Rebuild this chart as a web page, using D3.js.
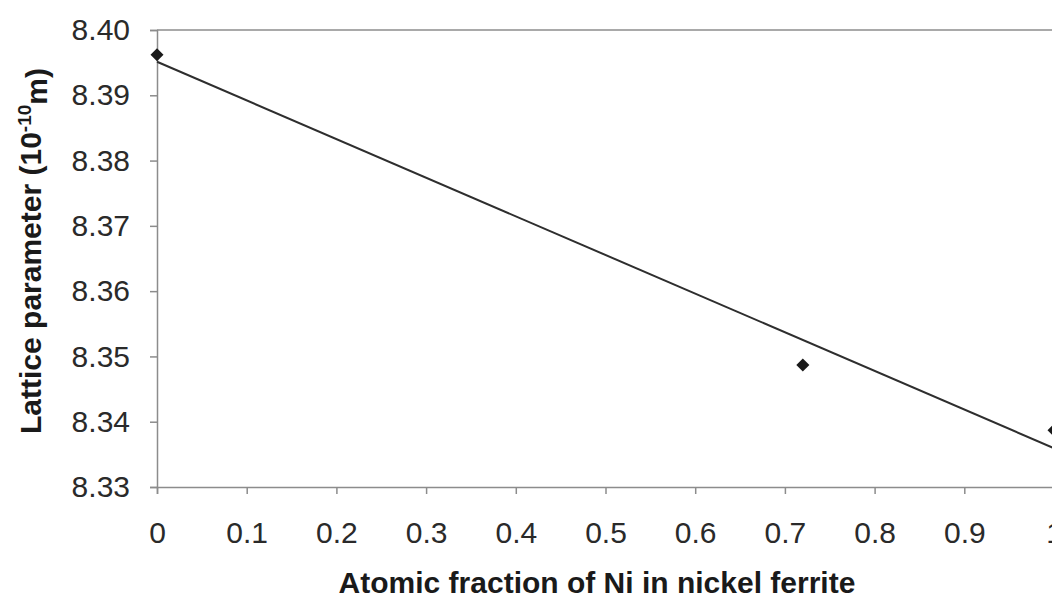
<!DOCTYPE html>
<html>
<head>
<meta charset="utf-8">
<script src="https://cdn.jsdelivr.net/npm/d3@7"></script>
<style>
  body { margin: 0; background: #fff; }
  svg { display: block; font-family: "Liberation Sans", Arial, sans-serif; }
</style>
</head>
<body>
<div id="chart"></div>
<script>
var width = 1052;
var height = 599;

// data
var niFraction = [0, 0.72, 1];
var latticeParam = [8.3962, 8.3487, 8.3387];
var xTicks = [0, 0.1, 0.2, 0.3, 0.4, 0.5, 0.6, 0.7, 0.8, 0.9, 1];
var yTicks = [8.33, 8.34, 8.35, 8.36, 8.37, 8.38, 8.39, 8.40];

var svg = d3.select("#chart").append("svg")
  .attr("width", width)
  .attr("height", height);

var x = d3.scaleLinear().domain([0, 1]).range([157, 1054]);
var y = d3.scaleLinear().domain([8.33, 8.40]).range([487, 30]);

// top border of the plot area
svg.append("line")
  .attr("x1", x(0)).attr("x2", x(1))
  .attr("y1", y(8.40)).attr("y2", y(8.40))
  .attr("stroke", "#8c8c8c").attr("stroke-width", 1.5);

var xAxis = svg.append("g")
  .attr("transform", "translate(0," + y(8.33) + ")")
  .call(d3.axisBottom(x).tickValues(xTicks).tickSize(7).tickPadding(28)
    .tickFormat(function (d) { return d === 0 || d === 1 ? d3.format("d")(d) : d3.format(".1f")(d); }));

var yAxis = svg.append("g")
  .attr("transform", "translate(" + x(0) + ",0)")
  .call(d3.axisLeft(y).tickValues(yTicks).tickSize(7).tickPadding(20)
    .tickFormat(d3.format(".2f")));

[xAxis, yAxis].forEach(function (g) {
  g.select(".domain").attr("stroke", "#8c8c8c").attr("stroke-width", 1.5);
  g.selectAll(".tick line").attr("stroke", "#8c8c8c").attr("stroke-width", 1.5);
  g.selectAll(".tick text")
    .attr("fill", "#2a2a2a")
    .style("font-size", "30px");
});
xAxis.selectAll(".tick text").attr("dy", "0.71em");

// linear trend line from the points
var mx = d3.mean(niFraction), my = d3.mean(latticeParam);
var sxy = d3.sum(niFraction, function (d, i) { return (d - mx) * (latticeParam[i] - my); });
var sxx = d3.sum(niFraction, function (d) { return (d - mx) * (d - mx); });
var slope = sxy / sxx;
var intercept = my - slope * mx;

svg.append("line")
  .attr("x1", x(0)).attr("y1", y(intercept))
  .attr("x2", x(1)).attr("y2", y(intercept + slope))
  .attr("stroke", "#2e2e2e").attr("stroke-width", 2);

svg.selectAll("path.pt")
  .data(niFraction)
  .enter()
  .append("path")
  .attr("class", "pt")
  .attr("d", d3.symbol().type(d3.symbolSquare).size(85))
  .attr("transform", function (d, i) {
    return "translate(" + x(d) + "," + y(latticeParam[i]) + ") rotate(45)";
  })
  .attr("fill", "#1a1a1a");

// axis titles
svg.append("text")
  .attr("x", 597)
  .attr("y", 593)
  .attr("text-anchor", "middle")
  .attr("font-weight", "bold")
  .style("font-size", "30px")
  .attr("fill", "#1a1a1a")
  .text("Atomic fraction of Ni in nickel ferrite");

var yTitle = svg.append("text")
  .attr("transform", "translate(41,251) rotate(-90)")
  .attr("text-anchor", "middle")
  .attr("font-weight", "bold")
  .style("font-size", "30px")
  .attr("fill", "#1a1a1a");
yTitle.append("tspan").text("Lattice parameter (10");
yTitle.append("tspan").attr("dy", "-0.55em").style("font-size", "19px").text("-10");
yTitle.append("tspan").attr("dy", "0.55em").text("m)");
</script>
</body>
</html>
